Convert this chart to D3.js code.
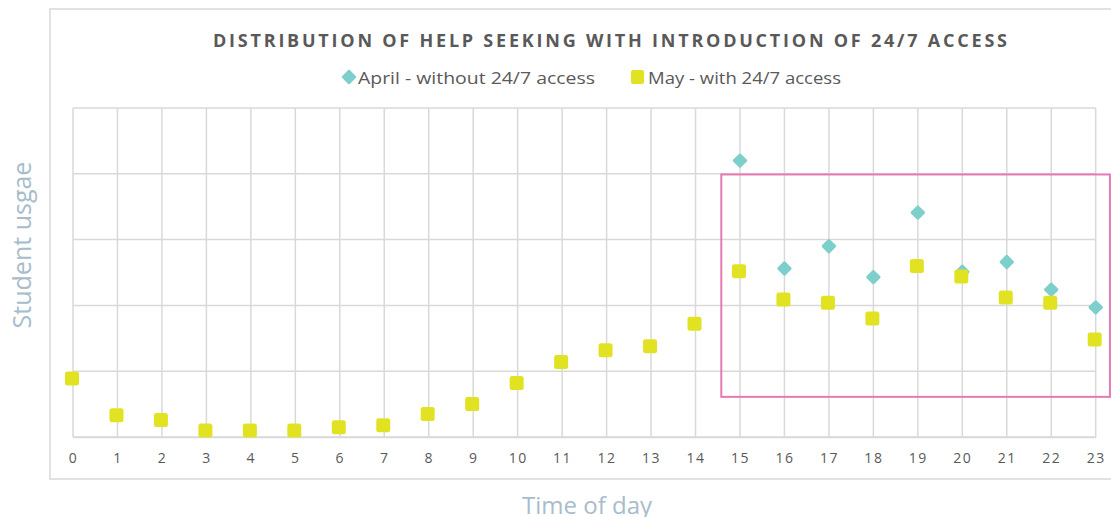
<!DOCTYPE html>
<html>
<head>
<meta charset="utf-8">
<script src="https://cdn.jsdelivr.net/npm/d3@7"></script>
<style>
  html, body { margin: 0; padding: 0; background: #fff; }
  svg { display: block; }
  text { font-family: "Open Sans", "Noto Sans", sans-serif; }
</style>
</head>
<body>
<svg id="chart" width="1111" height="517"></svg>
<script>
const hours = [0,1,2,3,4,5,6,7,8,9,10,11,12,13,14,15,16,17,18,19,20,21,22,23];
const mayValues = [8.9,3.3,2.6,1.0,1.0,1.0,1.5,1.8,3.5,5.0,8.2,11.4,13.2,13.8,17.2,25.2,20.9,20.4,18.0,26.0,24.4,21.2,20.4,14.8];
const aprilHours = [15,16,17,18,19,20,21,22,23];
const aprilValues = [42.0,25.6,29.0,24.3,34.1,25.1,26.6,22.4,19.7];
const yTicks = [0,10,20,30,40,50];
const highlight = { x0: 14.58, x1: 23.32, y0: 6.1, y1: 39.9 };
const titleText = "DISTRIBUTION OF HELP SEEKING WITH INTRODUCTION OF 24/7 ACCESS";
const legendLabels = ["April -  without  24/7 access", "May - with 24/7 access"];
const xTitle = "Time of day";
const yTitle = "Student usgae";

const svg = d3.select("#chart");
const plot = { left: 73, right: 1095.7, top: 108, bottom: 437 };

const x = d3.scaleLinear().domain([0, 23]).range([plot.left, plot.right]);
const y = d3.scaleLinear().domain([0, 50]).range([plot.bottom, plot.top]);

const grid = "#d9d9d9";
const textCol = "#595959";
const teal = "#7dcfcc";
const yellow = "#e1e322";
const pink = "#e57ab4";

// outer chart border
svg.append("rect").attr("x", 50).attr("y", 9).attr("width", 1100).attr("height", 470)
  .attr("fill", "none").attr("stroke", grid).attr("stroke-width", 1.5);

// horizontal gridlines
svg.append("g").selectAll("line").data(yTicks).join("line")
  .attr("x1", plot.left).attr("x2", plot.right)
  .attr("y1", d => y(d)).attr("y2", d => y(d))
  .attr("stroke", grid).attr("stroke-width", 1.5);

// vertical gridlines
svg.append("g").selectAll("line").data(hours).join("line")
  .attr("x1", d => x(d)).attr("x2", d => x(d))
  .attr("y1", plot.top).attr("y2", plot.bottom)
  .attr("stroke", grid).attr("stroke-width", 1.5);

// x axis labels
const xAxis = d3.axisBottom(x).tickValues(hours).tickSize(0).tickPadding(16).tickFormat(d => d);
const gx = svg.append("g").attr("transform", `translate(0,${plot.bottom})`).call(xAxis);
gx.select(".domain").attr("stroke", grid).attr("stroke-width", 1.5);
gx.selectAll("text").attr("fill", textCol).style("font-size", "14px").style("letter-spacing", "1.5px")
  .style("font-family", "'Open Sans', sans-serif");

// highlight rectangle
svg.append("rect")
  .attr("x", x(highlight.x0)).attr("y", y(highlight.y1))
  .attr("width", x(highlight.x1) - x(highlight.x0))
  .attr("height", y(highlight.y0) - y(highlight.y1))
  .attr("fill", "none").attr("stroke", pink).attr("stroke-width", 2);

// April diamonds
const ds = 11;
svg.append("g").selectAll("rect").data(aprilHours.map((h, i) => [h, aprilValues[i]])).join("rect")
  .attr("x", -ds / 2).attr("y", -ds / 2).attr("width", ds).attr("height", ds).attr("rx", 1.5)
  .attr("transform", d => `translate(${x(d[0])},${y(d[1])}) rotate(45)`)
  .attr("fill", teal);

// May squares
const ss = 14;
svg.append("g").selectAll("rect").data(hours.map((h, i) => [h, mayValues[i]])).join("rect")
  .attr("x", d => x(d[0]) - 1 - ss / 2).attr("y", d => y(d[1]) - ss / 2)
  .attr("width", ss).attr("height", ss).attr("rx", 2.5)
  .attr("fill", yellow);

// title
svg.append("text").attr("x", 213).attr("y", 47)
  .attr("fill", textCol).style("font-size", "18px").style("font-weight", "bold")
  .attr("textLength", 794).attr("lengthAdjust", "spacing").text(titleText);

// legend
const lg = svg.append("g");
lg.append("rect").attr("x", -5.5).attr("y", -5.5).attr("width", 11).attr("height", 11).attr("rx", 1.2)
  .attr("transform", "translate(349,77) rotate(45)").attr("fill", teal);
lg.append("text").attr("x", 358).attr("y", 84).attr("fill", textCol).style("font-size", "17px")
  .attr("textLength", 237).attr("lengthAdjust", "spacingAndGlyphs").text(legendLabels[0]);
lg.append("rect").attr("x", 631).attr("y", 70).attr("width", 13).attr("height", 14).attr("rx", 2)
  .attr("fill", yellow);
lg.append("text").attr("x", 648).attr("y", 84).attr("fill", textCol).style("font-size", "17px")
  .attr("textLength", 193).attr("lengthAdjust", "spacingAndGlyphs").text(legendLabels[1]);

// axis titles
svg.append("text").attr("x", 587).attr("y", 514).attr("text-anchor", "middle")
  .attr("fill", "#a7bccc").style("font-size", "24px").text(xTitle);
svg.append("text").attr("transform", "translate(31,245) rotate(-90)").attr("text-anchor", "middle")
  .attr("fill", "#a7bccc").style("font-size", "25px").text(yTitle);
</script>
</body>
</html>
